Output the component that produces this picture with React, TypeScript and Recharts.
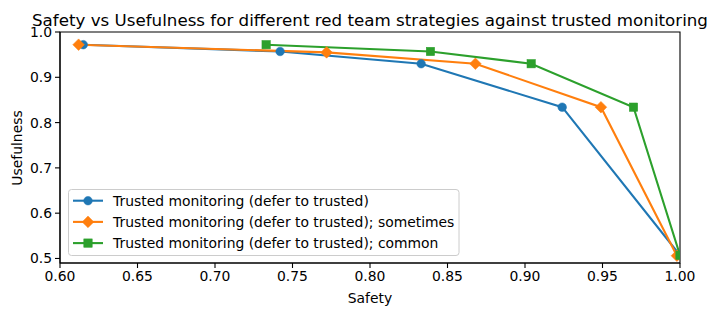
import React from 'react';
import { LineChart, Line, XAxis, YAxis, ReferenceArea } from 'recharts';

const blueX = [0.615, 0.742, 0.833, 0.924, 1.0];
const blueY = [0.972, 0.957, 0.930, 0.834, 0.507];
const orangeX = [0.612, 0.772, 0.868, 0.949, 0.998];
const orangeY = [0.972, 0.955, 0.930, 0.834, 0.506];
const greenX = [0.733, 0.839, 0.904, 0.970, 1.0];
const greenY = [0.972, 0.957, 0.930, 0.834, 0.507];

const xTicks = [0.6, 0.65, 0.7, 0.75, 0.8, 0.85, 0.9, 0.95, 1.0];
const yTicks = [0.5, 0.6, 0.7, 0.8, 0.9, 1.0];

const seriesNames = [
  'Trusted monitoring (defer to trusted)',
  'Trusted monitoring (defer to trusted); sometimes',
  'Trusted monitoring (defer to trusted); common',
];
const colors = ['#1f77b4', '#ff7f0e', '#2ca02c'];

const zip = (xs: number[], ys: number[]) => xs.map((x, i) => ({ x, y: ys[i] }));
const blue = zip(blueX, blueY);
const orange = zip(orangeX, orangeY);
const green = zip(greenX, greenY);

const FONT = 'DejaVu Sans, sans-serif';

function marker(kind: number, cx: number, cy: number, color: string, key?: any) {
  if (kind === 0) return <circle key={key} cx={cx} cy={cy} r={4.3} fill={color} stroke={color} strokeWidth={0.5} />;
  if (kind === 1) {
    const d = 5.8;
    return (
      <polygon
        key={key}
        points={`${cx},${cy - d} ${cx + d},${cy} ${cx},${cy + d} ${cx - d},${cy}`}
        fill={color}
        stroke={color}
        strokeWidth={0.5}
      />
    );
  }
  const s = 4.2;
  return <rect key={key} x={cx - s} y={cy - s} width={2 * s} height={2 * s} fill={color} stroke={color} strokeWidth={0.5} />;
}

const makeDot = (kind: number, color: string) => (props: any) => {
  const { cx, cy, index } = props;
  if (cx == null || cy == null) return <g key={`k${index}`} />;
  return marker(kind, cx, cy, color, `d${kind}-${index}`);
};

export default function App() {
  const rows = [200.7, 221.9, 243.1];
  return (
    <div style={{ position: 'absolute', left: 0, top: 0, width: 718, height: 316, background: '#fff', fontFamily: FONT }}>
      <LineChart width={718} height={316} margin={{ top: 32, right: 38, bottom: 0, left: 0 }}>
        <XAxis
          type="number"
          dataKey="x"
          domain={[0.6, 1.0]}
          ticks={xTicks}
          allowDataOverflow
          tickFormatter={(v: number) => v.toFixed(2)}
          height={53}
          tickSize={5}
          tickMargin={3}
          axisLine={{ stroke: '#000', strokeWidth: 1.1 }}
          tickLine={{ stroke: '#000', strokeWidth: 1.1 }}
          tick={{ fill: '#000', fontSize: 13.9, fontFamily: FONT }}
        />
        <YAxis
          type="number"
          dataKey="y"
          domain={[0.49, 1.0]}
          ticks={yTicks}
          allowDataOverflow
          tickFormatter={(v: number) => v.toFixed(1)}
          width={60}
          tickSize={5}
          tickMargin={3}
          axisLine={{ stroke: '#000', strokeWidth: 1.1 }}
          tickLine={{ stroke: '#000', strokeWidth: 1.1 }}
          tick={{ fill: '#000', fontSize: 13.9, fontFamily: FONT }}
        />
        <ReferenceArea x1={0.6} x2={1.0} y1={0.49} y2={1.0} fill="none" stroke="#000" strokeWidth={1.1} fillOpacity={0} />
        <Line data={blue} dataKey="y" type="linear" stroke={colors[0]} strokeWidth={2.1} dot={makeDot(0, colors[0])} isAnimationActive={false} />
        <Line data={orange} dataKey="y" type="linear" stroke={colors[1]} strokeWidth={2.1} dot={makeDot(1, colors[1])} isAnimationActive={false} />
        <Line data={green} dataKey="y" type="linear" stroke={colors[2]} strokeWidth={2.1} dot={makeDot(2, colors[2])} isAnimationActive={false} />
      </LineChart>
      <div style={{ position: 'absolute', left: 0, width: 740, top: 11, height: 13, textAlign: 'center', color: '#000' }}>
        <span style={{ display: 'inline-block', fontSize: 16.7, lineHeight: '13px', height: 13, whiteSpace: 'nowrap' }}>
          Safety vs Usefulness for different red team strategies against trusted monitoring
        </span>
      </div>
      <div style={{ position: 'absolute', left: 320, width: 100, top: 289, textAlign: 'center', fontSize: 13.9, lineHeight: '18px', color: '#000' }}>
        Safety
      </div>
      <div
        style={{
          position: 'absolute',
          left: 17 - 50,
          top: 148 - 9,
          width: 100,
          height: 18,
          lineHeight: '18px',
          textAlign: 'center',
          fontSize: 13.9,
          color: '#000',
          transform: 'rotate(-90deg)',
        }}
      >
        Usefulness
      </div>
      <svg style={{ position: 'absolute', left: 0, top: 0 }} width={718} height={316}>
        <rect x={68.5} y={189.5} width={390.5} height={66} rx={3} fill="#fff" fillOpacity={0.8} stroke="#cccccc" strokeWidth={1} />
        {seriesNames.map((name, i) => (
          <g key={name}>
            <line x1={73} x2={103} y1={rows[i]} y2={rows[i]} stroke={colors[i]} strokeWidth={2.1} />
            {marker(i, 88, rows[i], colors[i])}
            <text x={113} y={rows[i]} dominantBaseline="central" fontSize={13.9} fontFamily={FONT} fill="#000">
              {name}
            </text>
          </g>
        ))}
      </svg>
    </div>
  );
}
